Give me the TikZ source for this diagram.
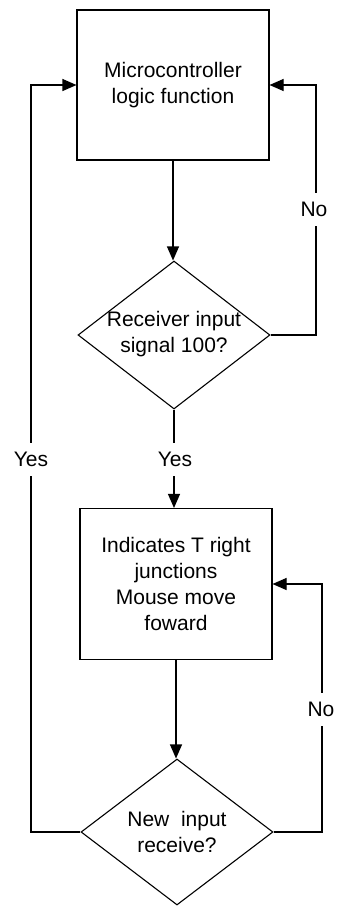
\documentclass[tikz,border=0pt]{standalone}
\usepackage{fontspec}
\setmainfont{Liberation Sans}
\usetikzlibrary{shapes.geometric,arrows.meta}
\begin{document}
\begin{tikzpicture}[x=1pt,y=-1pt,
 line width=1.1pt,
 proc/.style={draw, rectangle, minimum width=192pt, minimum height=150pt, inner sep=0pt, align=center, font=\fontsize{21}{26}\selectfont},
 dec/.style={draw, diamond, minimum width=192pt, minimum height=148pt, inner sep=0pt},
 txt/.style={align=center, font=\fontsize{21}{26}\selectfont, inner sep=0pt},
 lbl/.style={fill=white, font=\fontsize{21}{26}\selectfont, inner xsep=2pt, inner ysep=9pt},
 arr/.style={-{Triangle[length=14pt,width=12pt]}}]
\useasboundingbox (0,0) rectangle (337,906);
\fill[white] (0,0) rectangle (337,906);

\node[proc] (b1) at (173,85) {Microcontroller\\logic function};
\node[dec] (d1) at (174,335) {};
\node[txt] (t1) at (174,334) {Receiver input\\signal 100?};
\node[proc, minimum height=151pt] (b2) at (176,584) {Indicates T right\\junctions\\Mouse move\\foward};
\node[dec, minimum height=146pt] (d2) at (177,832) {};
\node[txt] (t2) at (177,831.5) {New\ \ input\\receive?};

\coordinate (L) at (31,0);
\coordinate (R1) at (316,0);
\coordinate (R2) at (322,0);

\draw[arr] (b1.south) -- (b1.south |- d1.north);
\draw[arr] (d1.south) -- (d1.south |- b2.north);
\draw[arr] (b2.south) -- (b2.south |- d2.north);
\draw[arr] (d1.east) -- (d1.east -| R1) -- (R1 |- b1.east) -- (b1.east);
\draw[arr] (d2.east) -- (d2.east -| R2) -- (R2 |- b2.east) -- (b2.east);
\draw[arr] (d2.west) -- (d2.west -| L) -- (L |- b1.west) -- (b1.west);

\node[lbl] (no1) at (314,209.5) {No};
\node[lbl] (yes1) at (175,459.5) {Yes};
\node[lbl] (yes2) at (31,459.5) {Yes};
\node[lbl] (no2) at (321,709.5) {No};
\end{tikzpicture}
\end{document}
